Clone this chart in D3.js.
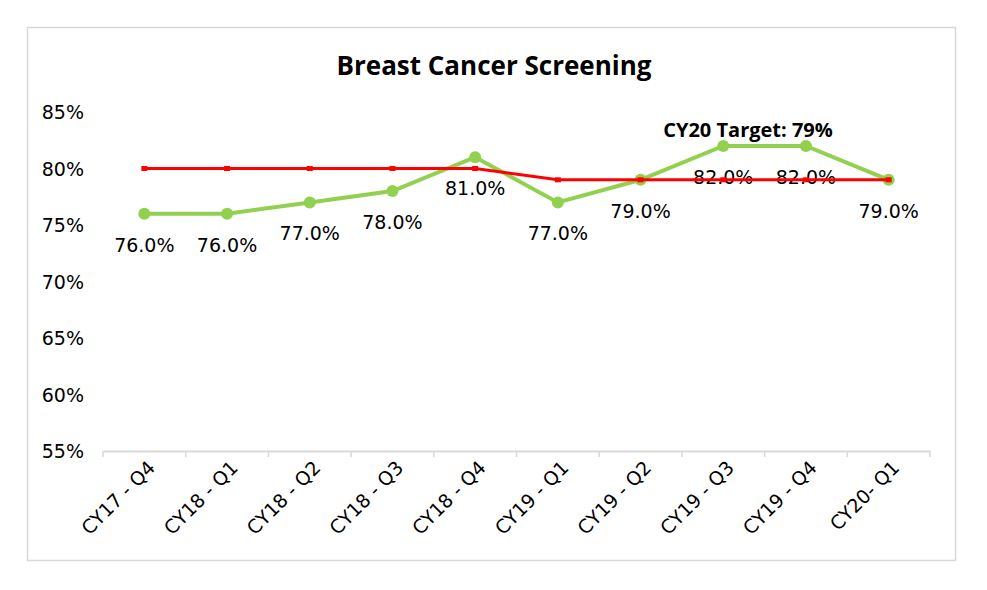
<!DOCTYPE html>
<html>
<head>
<meta charset="utf-8">
<script src="https://cdn.jsdelivr.net/npm/d3@7"></script>
<style>
body { margin: 0; background: #fff; }
.lbl { font-family: "DejaVu Sans", Verdana, sans-serif; font-size: 19px; fill: #000; }
</style>
</head>
<body>
<div id="chart"></div>
<script>
var quarters = ["CY17 - Q4", "CY18 - Q1", "CY18 - Q2", "CY18 - Q3", "CY18 - Q4",
                "CY19 - Q1", "CY19 - Q2", "CY19 - Q3", "CY19 - Q4", "CY20- Q1"];
var actual = [76, 76, 77, 78, 81, 77, 79, 82, 82, 79];
var target = [80, 80, 80, 80, 80, 79, 79, 79, 79, 79];
var yTicks = [55, 60, 65, 70, 75, 80, 85];

var W = 987, H = 590;
var svg = d3.select("#chart").append("svg")
    .attr("width", W)
    .attr("height", H);

// chart frame
svg.append("rect")
    .attr("x", 27.5).attr("y", 27.5)
    .attr("width", 928).attr("height", 533)
    .attr("fill", "#fff")
    .attr("stroke", "#d9d9d9")
    .attr("stroke-width", 1.5);

var x = d3.scaleBand().domain(quarters).range([103, 930]);
var y = d3.scaleLinear().domain([55, 85]).range([451, 112]);
var cx = function(i) { return x(quarters[i]) + x.bandwidth() / 2; };

// title
svg.append("text")
    .attr("x", 494).attr("y", 75)
    .attr("text-anchor", "middle")
    .style("font-family", "'Open Sans', sans-serif")
    .style("font-weight", "bold")
    .style("font-size", "26px")
    .text("Breast Cancer Screening");

// y axis labels (no axis line)
var yAxis = svg.append("g")
    .attr("transform", "translate(84,0)")
    .call(d3.axisLeft(y).tickValues(yTicks).tickSize(0).tickPadding(0)
        .tickFormat(function(d) { return d + "%"; }));
yAxis.select(".domain").remove();
yAxis.attr("font-family", null).attr("font-size", null);
yAxis.selectAll("text")
    .attr("class", "lbl")
    .attr("dy", "0.35em");

// x axis
var xAxis = svg.append("g")
    .attr("transform", "translate(0,451)")
    .call(d3.axisBottom(x).tickSize(0).tickPadding(0));
xAxis.select(".domain").attr("stroke", "#d9d9d9").attr("stroke-width", 2);
xAxis.attr("font-family", null).attr("font-size", null);
xAxis.selectAll(".tick line").remove();
xAxis.selectAll(".tick text")
    .attr("class", "lbl")
    .style("font-size", "19px")
    .attr("text-anchor", "end")
    .attr("dy", null).attr("y", null)
    .attr("transform", "translate(12,18) rotate(-45)");

// tick marks at band edges
var edges = quarters.map(function(q) { return x(q); }).concat([x.range()[1]]);
svg.append("g").selectAll("line")
    .data(edges)
    .enter().append("line")
    .attr("x1", function(d) { return d; })
    .attr("x2", function(d) { return d; })
    .attr("y1", 451).attr("y2", 457)
    .attr("stroke", "#d9d9d9")
    .attr("stroke-width", 1.5);

// actual line
var line = d3.line()
    .x(function(d, i) { return cx(i); })
    .y(function(d) { return y(d); });

svg.append("path")
    .datum(actual)
    .attr("fill", "none")
    .attr("stroke", "#92d050")
    .attr("stroke-width", 4)
    .attr("d", line);

svg.append("g").selectAll("circle")
    .data(actual)
    .enter().append("circle")
    .attr("cx", function(d, i) { return cx(i); })
    .attr("cy", function(d) { return y(d); })
    .attr("r", 6)
    .attr("fill", "#92d050");

svg.append("g").selectAll("text")
    .data(actual)
    .enter().append("text")
    .attr("class", "lbl")
    .attr("x", function(d, i) { return cx(i); })
    .attr("y", function(d) { return y(d) + 38; })
    .attr("text-anchor", "middle")
    .text(function(d) { return d.toFixed(1) + "%"; });

// target line
svg.append("path")
    .datum(target)
    .attr("fill", "none")
    .attr("stroke", "#ff0000")
    .attr("stroke-width", 3)
    .attr("d", line);

svg.append("g").selectAll("rect")
    .data(target)
    .enter().append("rect")
    .attr("x", function(d, i) { return cx(i) - 3; })
    .attr("y", function(d) { return y(d) - 2.5; })
    .attr("width", 6).attr("height", 5)
    .attr("fill", "#ff0000");

svg.append("text")
    .attr("x", 748).attr("y", 137)
    .attr("text-anchor", "middle")
    .style("font-family", "'Open Sans', sans-serif")
    .style("font-weight", "bold")
    .style("font-size", "20px")
    .text("CY20 Target: 79%");
</script>
</body>
</html>
